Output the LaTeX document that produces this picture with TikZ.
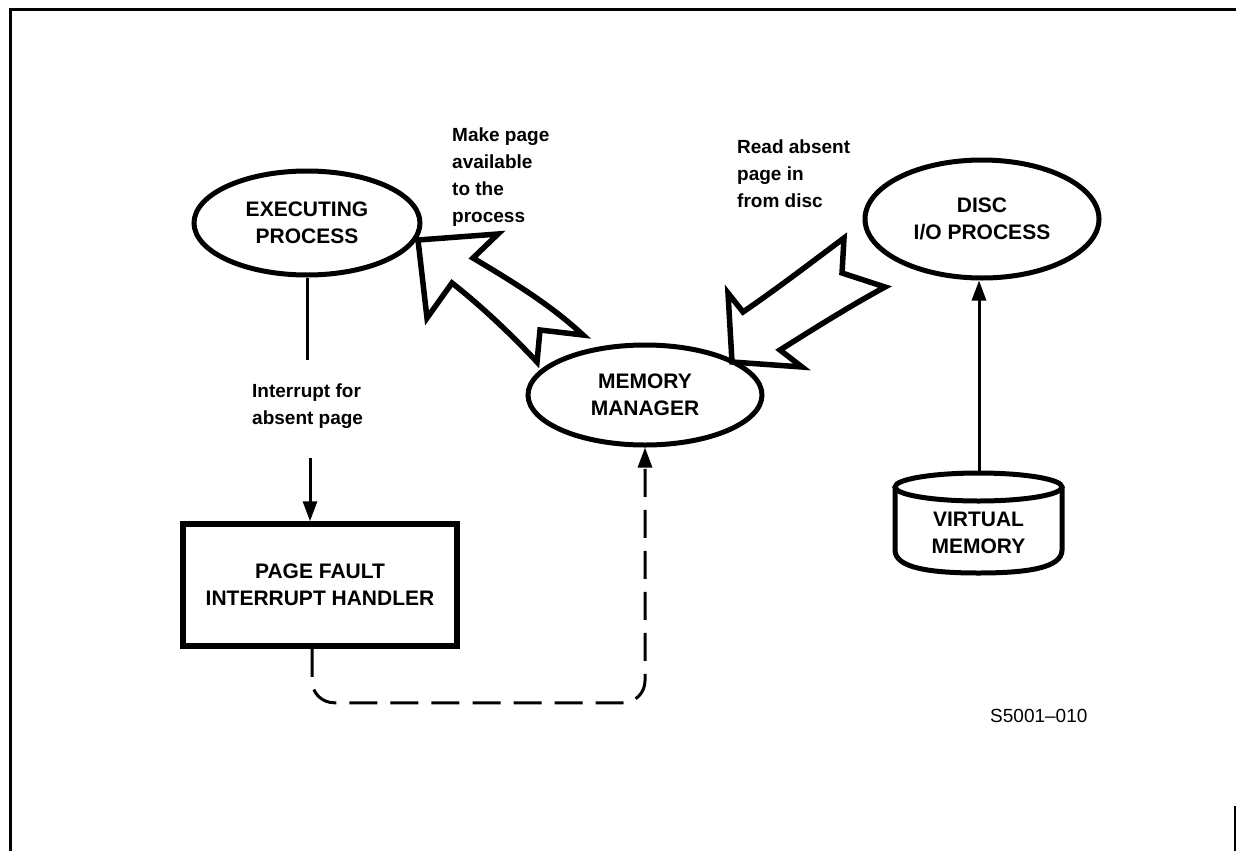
\documentclass[tikz,border=0pt]{standalone}
\usepackage{fontspec}
\setmainfont{Liberation Sans}
\usetikzlibrary{shapes.geometric,arrows.meta}
\newcommand\diagnodefont{\fontsize{21}{27}\selectfont\bfseries}
\newcommand\diaglabelfont{\fontsize{19}{27}\selectfont\bfseries}
\newcommand\diagidfont{\fontsize{19}{23}\selectfont}
\begin{document}
\begin{tikzpicture}[x=1pt,y=-1pt,
  every node/.style={inner sep=0pt},
  proc/.style={ellipse, draw, line width=5pt, align=center, font=\diagnodefont},
  handler/.style={rectangle, draw, line width=5.5pt, align=center, font=\diagnodefont},
  note/.style={align=left, font=\diaglabelfont},
  link/.style={line width=3pt},
  flow/.style={line width=3pt, -{Triangle[length=20pt,width=14pt]}},
  dashflow/.style={flow, dash pattern=on 28pt off 13pt, rounded corners=22pt},
  hollow/.style={line width=5.5pt, line join=miter, miter limit=4, fill=white},
  drum/.style={line width=5pt},
  frameline/.style={line width=3pt}]
\useasboundingbox (0,0) rectangle (1236,851);

% page frame
\draw[frameline] (10,851) -- (10,9.5) -- (1236,9.5);
\draw[frameline] (1235,806) -- (1235,851);

% processes
\node[proc, minimum width=226pt, minimum height=104pt] (ep) at (307,223) {EXECUTING\\PROCESS};
\node[proc, minimum width=234pt, minimum height=100pt] (mm) at (645,395) {MEMORY\\MANAGER};
\node[proc, minimum width=234pt, minimum height=118pt] (disc) at (982,219) {DISC\\I/O PROCESS};
\node[handler, minimum width=274pt, minimum height=122pt] (pf) at (320,585) {PAGE FAULT\\INTERRUPT HANDLER};

% virtual memory drum
\draw[drum] (978.5,487) ellipse [x radius=83.5, y radius=14];
\draw[drum] (895,487) -- (895,550) .. controls (895,568) and (930,573) .. (978.5,573)
  .. controls (1027,573) and (1062,568) .. (1062,550) -- (1062,487);
\node[font=\diagnodefont, align=center] (vm) at (978.5,533) {VIRTUAL\\MEMORY};
\coordinate (vmtop) at (979,473);

% labels
\node[note, anchor=north west] (lmake) at (452,128) {Make page\\available\\to the\\process};
\node[note, anchor=north west] (lread) at (737,140) {Read absent\\page in\\from disc};
\node[note, anchor=west] (lint) at (252,406) {Interrupt for\\absent page};
\node[font=\diagidfont, anchor=west] (fig) at (990,716) {S5001–010};

% page fault path
\coordinate (faultend) at (307,360);
\coordinate (faultarrow) at (310,458);
\draw[link] (ep.south) -- (faultend);
\draw[flow] (faultarrow) -- (faultarrow |- pf.north);
\draw[dashflow] ([xshift=-8pt]pf.south) -- ++(0,54) -| (mm.south);
\draw[flow] (vmtop) -- (vmtop |- disc.south);

% hollow arrows
\draw[hollow] (418,240) -- (498,234) -- (473,258)
  .. controls (515,283) and (552,306) .. (583,335) -- (540,330) -- (537,362)
  .. controls (510,333) and (480,305) .. (452,283) -- (427,318) -- cycle;
\draw[hollow] (732,362) -- (728,293) -- (743,312)
  .. controls (778,288) and (812,262) .. (844,238) -- (842,273) -- (885,287)
  .. controls (850,306) and (815,328) .. (780,350) -- (802,367) -- cycle;
\end{tikzpicture}
\end{document}
